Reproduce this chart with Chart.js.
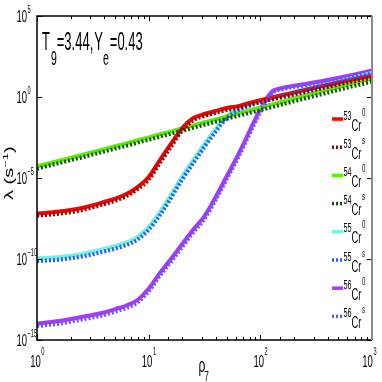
<!DOCTYPE html>
<html>
<head>
  <title>Cr isotopes rate vs density</title>
  <script src="https://cdn.jsdelivr.net/npm/chart.js"></script>
  <style>
    html, body { margin: 0; padding: 0; background: #fff; }
  </style>
</head>
<body>
  <canvas id="rateChart" width="382" height="382"></canvas>

  <script>
    // density rho_7 (x) and rates lambda in s^-1
    const rho = [1, 1.58, 2.51, 3.98, 5.01, 6.31, 7.94, 10, 12.6, 15.8, 20, 25.1, 31.6, 39.8, 50.1, 63.1, 79.4, 100, 126, 158, 251, 398, 631, 1000];

    const cr53_0 = [6.46e-8, 8.51e-8, 1.41e-7, 3.31e-7, 5.37e-7, 1.02e-6, 2.75e-6, 1.15e-5, 1.29e-4, 1.26e-3, 1.23e-2, 5.01e-2, 8.91e-2, 0.138, 0.209, 0.275, 0.427, 0.646, 0.933, 1.32, 2.69, 5.50, 11.2, 21.4];
    const cr53_s = [4.68e-8, 6.17e-8, 1.02e-7, 2.40e-7, 3.89e-7, 7.41e-7, 2.00e-6, 7.94e-6, 8.32e-5, 8.32e-4, 8.51e-3, 3.63e-2, 6.61e-2, 0.105, 0.158, 0.209, 0.316, 0.479, 0.692, 0.977, 2.00, 4.07, 8.32, 15.8];
    const cr54_0 = [5.25e-5, 1.17e-4, 2.63e-4, 6.03e-4, 9.12e-4, 1.38e-3, 2.14e-3, 3.24e-3, 5.01e-3, 7.59e-3, 1.17e-2, 1.78e-2, 2.75e-2, 4.17e-2, 6.46e-2, 9.77e-2, 0.148, 0.224, 0.339, 0.513, 1.20, 2.75, 6.31, 14.5];
    const cr54_s = [3.72e-5, 8.32e-5, 1.86e-4, 4.27e-4, 6.46e-4, 9.77e-4, 1.51e-3, 2.29e-3, 3.55e-3, 5.37e-3, 8.32e-3, 1.26e-2, 1.95e-2, 2.95e-2, 4.47e-2, 6.76e-2, 0.102, 0.155, 0.234, 0.355, 0.813, 1.82, 4.07, 9.12];
    const cr55_0 = [1.07e-10, 1.32e-10, 2.04e-10, 4.17e-10, 6.31e-10, 1.05e-9, 2.29e-9, 9.55e-9, 7.94e-8, 8.91e-7, 1.32e-5, 1.29e-4, 1.26e-3, 1.05e-2, 6.76e-2, 0.182, 0.347, 0.562, 0.871, 1.32, 3.09, 6.31, 13.8, 30.2];
    const cr55_s = [7.41e-11, 9.12e-11, 1.41e-10, 2.88e-10, 4.37e-10, 7.24e-10, 1.58e-9, 6.31e-9, 5.01e-8, 5.62e-7, 8.32e-6, 8.32e-5, 8.32e-4, 7.24e-3, 5.01e-2, 0.145, 0.288, 0.479, 0.741, 1.12, 2.57, 5.25, 11.5, 25.1];
    const cr56_0 = [1.05e-14, 1.48e-14, 2.63e-14, 5.01e-14, 8.13e-14, 1.35e-13, 2.95e-13, 1.51e-12, 1.38e-11, 1.00e-10, 8.51e-10, 6.61e-9, 4.47e-8, 6.76e-7, 1.32e-5, 2.63e-4, 6.92e-3, 0.182, 2.04, 3.63, 6.31, 11.2, 21.4, 43.7];
    const cr56_s = [7.24e-15, 1.02e-14, 1.82e-14, 3.47e-14, 5.62e-14, 9.33e-14, 2.04e-13, 1.00e-12, 9.12e-12, 6.61e-11, 5.62e-10, 4.37e-9, 2.95e-8, 4.47e-7, 8.71e-6, 1.74e-4, 4.57e-3, 0.120, 1.58, 2.95, 5.25, 9.55, 18.2, 37.2];

    const masses = ['53', '53', '54', '54', '55', '55', '56', '56'];
    const states = ['0', 's', '0', 's', '0', 's', '0', 's'];
    const yTicks = [1e-15, 1e-10, 1e-5, 1, 1e5];

    const allSeries = [cr53_0, cr53_s, cr54_0, cr54_s, cr55_0, cr55_s, cr56_0, cr56_s];
    const colors = ['#ff0000', '#7a1212', '#5cf000', '#1c4a1c', '#72f2e0', '#2a55ff', '#ae34ff', '#5c5cff'];

    const SANS = '"Liberation Sans", Arial, sans-serif';
    const SX = 0.56; // the figure text looks horizontally compressed

    function decade(v) {
      const e = Math.round(Math.log10(v));
      return Math.abs(Math.log10(v) - e) < 1e-6 ? e : null;
    }

    function measure(ctx, text, size, sx) {
      ctx.save();
      ctx.font = size + 'px ' + SANS;
      const w = ctx.measureText(text).width * sx;
      ctx.restore();
      return w;
    }

    function squeezed(ctx, text, x, y, size, sx) {
      ctx.save();
      ctx.font = size + 'px ' + SANS;
      ctx.translate(x, y);
      ctx.scale(sx, 1);
      ctx.fillText(text, 0, 0);
      const w = ctx.measureText(text).width * sx;
      ctx.restore();
      return x + w;
    }

    const boxPlugin = {
      id: 'box',
      afterDatasetsDraw(chart) {
        const { ctx, chartArea: a, scales: { x, y } } = chart;
        ctx.save();
        ctx.strokeStyle = '#000';
        ctx.lineWidth = 1;
        ctx.beginPath();
        x.ticks.forEach(t => {
          const px = Math.round(x.getPixelForValue(t.value)) + 0.5;
          const len = decade(t.value) !== null ? 5 : 3;
          ctx.moveTo(px, a.bottom); ctx.lineTo(px, a.bottom - len);
          ctx.moveTo(px, a.top); ctx.lineTo(px, a.top + len);
        });
        y.ticks.forEach(t => {
          const py = Math.round(y.getPixelForValue(t.value)) + 0.5;
          ctx.moveTo(a.left, py); ctx.lineTo(a.left + 5, py);
          ctx.moveTo(a.right, py); ctx.lineTo(a.right - 5, py);
        });
        ctx.stroke();
        ctx.lineWidth = 1.5;
        ctx.beginPath();
        ctx.moveTo(a.right, a.top); ctx.lineTo(a.left, a.top);
        ctx.lineTo(a.left, a.bottom); ctx.lineTo(a.right, a.bottom);
        ctx.stroke();
        ctx.strokeStyle = '#8a8a8a';
        ctx.lineWidth = 2;
        ctx.beginPath();
        ctx.moveTo(a.right, a.top); ctx.lineTo(a.right, a.bottom);
        ctx.stroke();
        ctx.restore();
      },
      afterDraw(chart) {
        const { ctx, chartArea: a, scales: { x, y } } = chart;
        ctx.save();
        ctx.fillStyle = '#000';
        ctx.textBaseline = 'alphabetic';

        // tick labels 10^n
        y.ticks.forEach(t => {
          const py = y.getPixelForValue(t.value);
          const e = String(decade(t.value)).replace('-', '\u2212');
          squeezed(ctx, '10', a.left - 10 - measure(ctx, '10', 17, SX), py + 6, 17, SX);
          squeezed(ctx, e, a.left - 9.5, py - 3, 10, SX);
        });
        x.ticks.forEach(t => {
          const e = decade(t.value);
          if (e === null) return;
          const px = x.getPixelForValue(t.value);
          const w10 = measure(ctx, '10', 17, SX);
          const we = measure(ctx, String(e), 10, SX);
          let sx0 = px - (w10 + we) / 2;
          sx0 = Math.min(sx0, 376 - w10 - we);
          const ex = squeezed(ctx, '10', sx0, 367, 17, SX);
          squeezed(ctx, String(e), ex + 0.5, 355, 10, SX);
        });

        // axis titles
        let rx = squeezed(ctx, '\u03C1', 198.5, 372, 20, 0.6);
        squeezed(ctx, '7', rx - 1, 381, 14, 0.6);

        ctx.save();
        ctx.translate(13, 200);
        ctx.rotate(-Math.PI / 2);
        ctx.scale(1, 0.6);
        ctx.font = '20px ' + SANS;
        ctx.fillText('\u03BB (s', 0, 0);
        let w = ctx.measureText('\u03BB (s').width;
        ctx.font = '13px ' + SANS;
        ctx.fillText('\u22121', w, -8);
        w += ctx.measureText('\u22121').width;
        ctx.font = '20px ' + SANS;
        ctx.fillText(')', w, 0);
        ctx.restore();

        // T9=3.44,Ye=0.43
        let cx = a.left + 5;
        cx = squeezed(ctx, 'T', cx, 50, 26, 0.5);
        cx = squeezed(ctx, '9', cx + 1, 65, 21, 0.5);
        cx = squeezed(ctx, '=3.44,', cx, 50, 26, 0.5);
        cx = squeezed(ctx, 'Y', cx + 1, 50, 26, 0.5);
        cx = squeezed(ctx, 'e', cx, 65, 21, 0.5);
        squeezed(ctx, '=0.43', cx + 1, 50, 26, 0.5);

        // legend
        chart.data.datasets.forEach((ds, i) => {
          const ly = 119 + i * 28.2;
          ctx.save();
          ctx.strokeStyle = ds.borderColor;
          ctx.lineWidth = 3.5;
          ctx.setLineDash(ds.borderDash);
          ctx.beginPath();
          ctx.moveTo(332, ly); ctx.lineTo(343, ly);
          ctx.stroke();
          ctx.restore();
          let tx = squeezed(ctx, masses[i], 343.5, ly + 0.5, 12, 0.6);
          tx = squeezed(ctx, 'Cr', tx, ly + 11.5, 16.5, 0.57);
          squeezed(ctx, states[i], tx + 0.5, ly - 3.5, 10, 0.6);
        });
        ctx.restore();
      }
    };

    const ctx = document.getElementById('rateChart').getContext('2d');
    new Chart(ctx, {
      type: 'line',
      data: {
        datasets: allSeries.map((vals, i) => ({
          label: masses[i] + 'Cr' + states[i],
          data: vals.map((v, j) => ({ x: rho[j], y: v })),
          borderColor: colors[i],
          borderWidth: 4,
          borderDash: states[i] === 's' ? [2, 2] : [],
          pointRadius: 0,
          fill: false,
          cubicInterpolationMode: 'monotone',
          order: states[i] === 's' ? 0 : 1
        }))
      },
      options: {
        responsive: false,
        animation: false,
        layout: { padding: { top: 16, right: 10, left: 0, bottom: 0 } },
        plugins: { legend: { display: false }, tooltip: { enabled: false } },
        scales: {
          x: {
            type: 'logarithmic',
            min: 1,
            max: 1000,
            grid: { display: false, drawTicks: false },
            border: { display: false },
            ticks: { display: false, autoSkip: false },
            afterFit: s => { s.height = 42; }
          },
          y: {
            type: 'logarithmic',
            min: 1e-15,
            max: 1e5,
            grid: { display: false, drawTicks: false },
            border: { display: false },
            afterBuildTicks: s => { s.ticks = yTicks.map(v => ({ value: v })); },
            ticks: { display: false },
            afterFit: s => { s.width = 37; }
          }
        }
      },
      plugins: [boxPlugin]
    });
  </script>
</body>
</html>
